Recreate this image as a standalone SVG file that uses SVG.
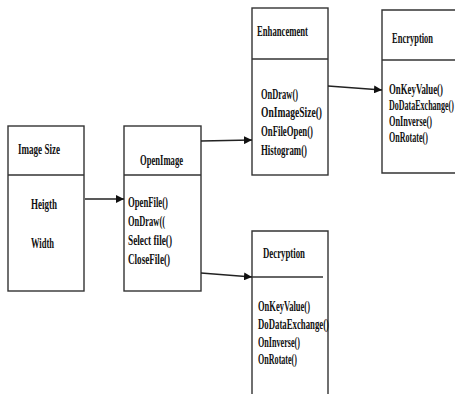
<svg xmlns="http://www.w3.org/2000/svg" width="455" height="394" viewBox="0 0 455 394">
<style>
.box{fill:#fff;stroke:#333;stroke-width:1.4}
.div{stroke:#333;stroke-width:1.4;fill:none}
text{font-family:"Liberation Serif","Times New Roman",serif;font-weight:bold;font-size:14px;fill:#111}
.conn{stroke:#222;stroke-width:1.6;fill:none}
</style>
<defs>
<marker id="ah" viewBox="0 0 10 10" refX="10" refY="5" markerWidth="5" markerHeight="5" orient="auto" markerUnits="strokeWidth">
<path d="M0,0 L10,5 L0,10 z" fill="#111"/>
</marker>
</defs>
<rect width="455" height="394" fill="#fff"/>
<g id="imagesize">
<rect class="box" x="8" y="126" width="76" height="165"/>
<line class="div" x1="8" y1="175" x2="84" y2="175"/>
<text x="18" y="154" textLength="42" lengthAdjust="spacingAndGlyphs">Image Size</text>
<text x="31" y="209" textLength="26" lengthAdjust="spacingAndGlyphs">Heigth</text>
<text x="31" y="248" textLength="23" lengthAdjust="spacingAndGlyphs">Width</text>
</g>
<g id="openimage">
<rect class="box" x="124" y="126" width="77" height="165"/>
<line class="div" x1="124" y1="175" x2="201" y2="175"/>
<text x="140" y="165" textLength="43" lengthAdjust="spacingAndGlyphs">OpenImage</text>
<text x="128" y="207" textLength="40" lengthAdjust="spacingAndGlyphs">OpenFile()</text>
<text x="128" y="226" textLength="37" lengthAdjust="spacingAndGlyphs">OnDraw((</text>
<text x="128" y="245" textLength="44" lengthAdjust="spacingAndGlyphs">Select file()</text>
<text x="128" y="264" textLength="42" lengthAdjust="spacingAndGlyphs">CloseFile()</text>
</g>
<g id="enhancement">
<rect class="box" x="252" y="8" width="76" height="167"/>
<line class="div" x1="252" y1="59" x2="328" y2="59"/>
<text x="257" y="36" textLength="51" lengthAdjust="spacingAndGlyphs">Enhancement</text>
<text x="261" y="99" textLength="37" lengthAdjust="spacingAndGlyphs">OnDraw()</text>
<text x="261" y="117" textLength="61" lengthAdjust="spacingAndGlyphs">OnImageSize()</text>
<text x="261" y="136" textLength="52" lengthAdjust="spacingAndGlyphs">OnFileOpen()</text>
<text x="261" y="155" textLength="46" lengthAdjust="spacingAndGlyphs">Histogram()</text>
</g>
<g id="encryption">
<path class="div" d="M455,10 H382 V173 H455"/>
<line class="div" x1="382" y1="60" x2="455" y2="60"/>
<g transform="translate(389,0) scale(0.58,1)">
<text x="5.2" y="43" textLength="70.7" lengthAdjust="spacingAndGlyphs">Encryption</text>
<text x="0" y="94" textLength="93.1" lengthAdjust="spacingAndGlyphs">OnKeyValue()</text>
<text x="0" y="110" textLength="112" lengthAdjust="spacingAndGlyphs">DoDataExchange()</text>
<text x="0" y="126" textLength="74.1" lengthAdjust="spacingAndGlyphs">OnInverse()</text>
<text x="0" y="142" textLength="67.2" lengthAdjust="spacingAndGlyphs">OnRotate()</text>
</g>
</g>
<g id="decryption">
<path class="div" d="M252,394 V231 H328 V394"/>
<line class="div" x1="252" y1="277" x2="323" y2="277"/>
<text x="263" y="258" textLength="42" lengthAdjust="spacingAndGlyphs">Decryption</text>
<text x="258" y="311" textLength="52" lengthAdjust="spacingAndGlyphs">OnKeyValue()</text>
<text x="258" y="329" textLength="71" lengthAdjust="spacingAndGlyphs">DoDataExchange()</text>
<text x="258" y="347" textLength="42" lengthAdjust="spacingAndGlyphs">OnInverse()</text>
<text x="258" y="364" textLength="39" lengthAdjust="spacingAndGlyphs">OnRotate()</text>
</g>
<g id="connectors">
<line class="conn" x1="85" y1="199" x2="124" y2="199" marker-end="url(#ah)"/>
<line class="conn" x1="201" y1="141" x2="252" y2="140" marker-end="url(#ah)"/>
<line class="conn" x1="328" y1="86" x2="382" y2="90" marker-end="url(#ah)"/>
<line class="conn" x1="201" y1="273" x2="252" y2="277" marker-end="url(#ah)"/>
</g>
</svg>
